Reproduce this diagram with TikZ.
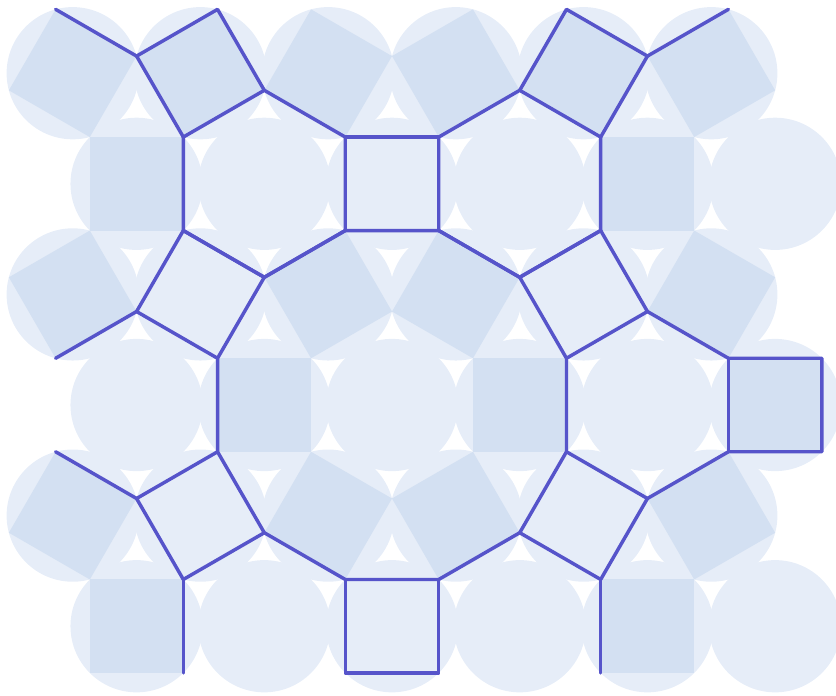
\documentclass[tikz,border=0pt]{standalone}
\usetikzlibrary{calc}
\definecolor{tileLight}{RGB}{230,237,248}
\definecolor{tileMid}{RGB}{211,224,242}
\definecolor{netBlue}{RGB}{86,84,202}

\begin{document}
\begin{tikzpicture}[
  x=1cm, y=1cm,
  halo/.style={fill=tileLight},
  darksq/.style={fill=tileMid},
  ringsq/.style={fill=tileLight},
  netedge/.style={draw=netBlue, line width=1.05pt, line join=round, line cap=round}
]
\useasboundingbox (-4.193,-3.102) rectangle (4.749,4.332);
\clip (-4.193,-3.102) rectangle (4.749,4.332);

\def\cellList{0/0, 2.7321/0, -2.7321/0, -1.3660/2.3660, 1.3660/2.3660,
  4.0981/2.3660, -1.3660/-2.3660, 1.3660/-2.3660, 4.0981/-2.3660}
\def\darkList{-2.7321/2.3660/0, 2.7321/2.3660/0,
  -1.3660/0/0, 1.3660/0/0, 4.0981/0/0,
  -2.7321/-2.3660/0, 2.7321/-2.3660/0,
  -3.4151/1.1830/120, -0.6830/1.1830/120, 0.6830/1.1830/60, 3.4151/1.1830/60,
  -3.4151/-1.1830/60, -0.6830/-1.1830/60, 0.6830/-1.1830/120, 3.4151/-1.1830/120,
  -3.4151/3.5490/60, -2.0490/3.5490/120, -0.6830/3.5490/60,
  0.6830/3.5490/120, 2.0490/3.5490/60, 3.4151/3.5490/120}
\def\ringList{0/2.3660/0, 0/-2.3660/0, -2.0490/1.1830/60,
  2.0490/1.1830/120, -2.0490/-1.1830/120, 2.0490/-1.1830/60}

% round halos behind cells and squares
\foreach \x/\y in \cellList
  \fill[halo] (\x,\y) circle (0.7071);
\foreach \x/\y/\r in \darkList
  \fill[halo] (\x,\y) circle (0.7071);
\foreach \x/\y/\r in \ringList
  \fill[halo] (\x,\y) circle (0.7071);

% squares
\foreach \x/\y/\r in \darkList
  \fill[darksq, shift={(\x,\y)}, rotate=\r]
    (-0.5,-0.5) -- (0.5,-0.5) -- (0.5,0.5) -- (-0.5,0.5) -- cycle;
\foreach \x/\y/\r in \ringList
  \fill[ringsq, shift={(\x,\y)}, rotate=\r]
    (-0.5,-0.5) -- (0.5,-0.5) -- (0.5,0.5) -- (-0.5,0.5) -- cycle;

% corners of the big dodecagon and of the hexagons round it
\foreach \k in {0,...,11}
  \coordinate (d\k) at ({15+30*\k}:1.93185);
\foreach \m in {0,...,5} {
  \coordinate (h\m) at ({60*\m}:2.73205);
  \foreach \j in {0,...,5}
    \coordinate (h\m-\j) at ($(h\m)+({30+60*\j}:1)$);
}

\draw[netedge] (d0) \foreach \k in {1,...,11} {-- (d\k)} -- cycle;

% squares on every other side
\foreach \m in {0,...,5} {
  \pgfmathtruncatemacro\a{2*\m}
  \pgfmathtruncatemacro\b{2*\m+1}
  \coordinate (q\m-1) at ($(d\a)+({30+60*\m}:1)$);
  \coordinate (q\m-2) at ($(d\b)+({30+60*\m}:1)$);
  \draw[netedge] (d\a) -- (q\m-1) -- (q\m-2) -- (d\b);
}

\draw[netedge] (h1-0) \foreach \j in {1,...,5} {-- (h1-\j)} -- cycle;
\draw[netedge] (h2-0) \foreach \j in {1,...,5} {-- (h2-\j)} -- cycle;

% top left
\coordinate (tl1) at ($(h2-1)+(120:1)$);
\coordinate (tl2) at ($(h2-2)+(120:1)$);
\coordinate (tl3) at ($(tl2)+(150:1)$);
\draw[netedge] (h2-1) -- (tl1) -- (tl2) -- (h2-2);
\draw[netedge] (tl2) -- (tl3);

% top right
\coordinate (tr1) at ($(h1-0)+(60:1)$);
\coordinate (tr2) at ($(h1-1)+(60:1)$);
\coordinate (tr3) at ($(tr1)+(30:1)$);
\draw[netedge] (h1-0) -- (tr1) -- (tr2) -- (h1-1);
\draw[netedge] (tr1) -- (tr3);

% right
\coordinate (rs1) at ($(h0-0)+(1,0)$);
\coordinate (rs2) at ($(h0-5)+(1,0)$);
\draw[netedge] (h0-1) -- (h0-0) -- (rs1) -- (rs2) -- (h0-5) -- (h0-4);
\draw[netedge] (h0-0) -- (h0-5);

% left and bottom
\draw[netedge] (h3-1) -- (h3-2);
\draw[netedge] (h3-3) -- (h3-4);
\draw[netedge] (h4-2) -- (h4-3);
\draw[netedge] (h5-0) -- (h5-5);
\end{tikzpicture}
\end{document}
